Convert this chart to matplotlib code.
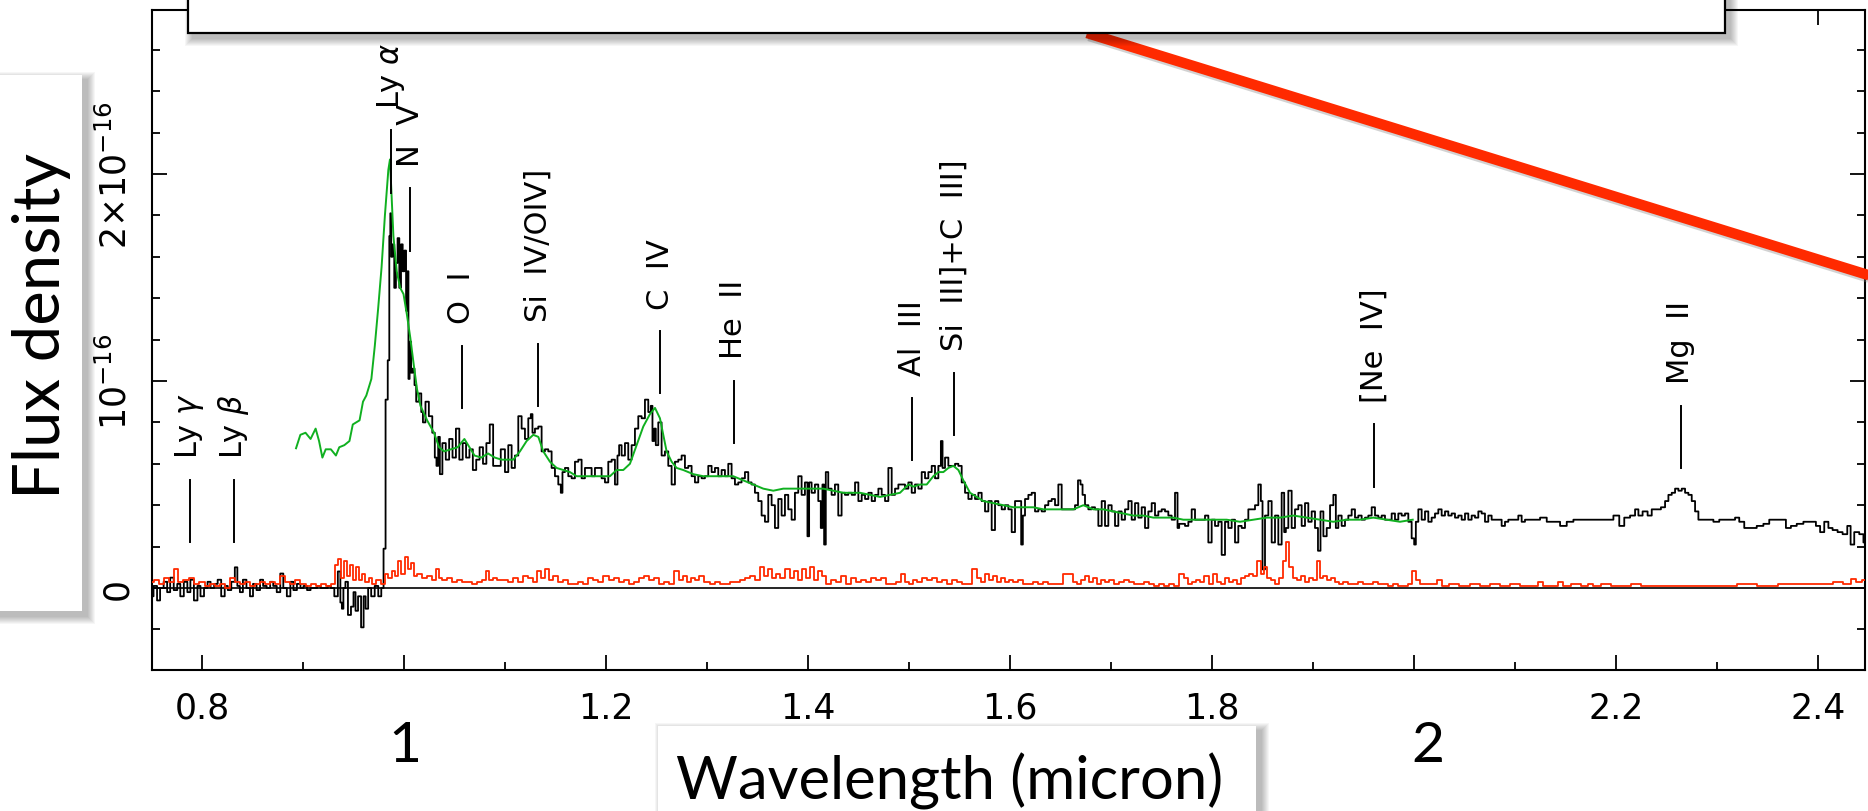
import numpy as np
import matplotlib
matplotlib.use("Agg")
import matplotlib.pyplot as plt
from matplotlib.patches import Rectangle

#%% data: flux density in units of 1e-16, wavelength in micron
wave_blue = [0.750, 0.754, 0.757, 0.760, 0.764, 0.767, 0.770, 0.774, 0.777, 0.780,
             0.784, 0.787, 0.790, 0.794, 0.797, 0.800, 0.804, 0.807, 0.810, 0.814,
             0.817, 0.821, 0.824, 0.827, 0.831, 0.834, 0.836, 0.839, 0.842, 0.846,
             0.849, 0.852, 0.856, 0.859, 0.862, 0.866, 0.869, 0.872, 0.876, 0.879,
             0.882, 0.886, 0.889, 0.892, 0.896, 0.899, 0.902, 0.906, 0.909, 0.912,
             0.916, 0.919, 0.923, 0.926, 0.929, 0.933, 0.936, 0.938, 0.939, 0.941,
             0.943, 0.946, 0.949, 0.951, 0.953, 0.956, 0.959, 0.961, 0.963, 0.966,
             0.969, 0.973, 0.976, 0.979, 0.9805, 0.983]
flux_blue = [-0.04, 0.01, -0.06, 0.00, 0.03, -0.02, 0.05, -0.01, 0.02, -0.04,
             0.03, -0.02, 0.04, -0.06, 0.01, -0.04, 0.00, 0.03, 0.00, 0.02,
             0.04, -0.04, 0.01, -0.01, 0.03, 0.10, 0.01, -0.02, 0.04, 0.00,
             -0.04, 0.02, -0.01, 0.04, 0.01, 0.00, 0.03, 0.01, -0.02, 0.07,
             0.00, -0.04, 0.03, -0.01, 0.02, 0.00, 0.01, -0.01, 0.00, 0.00,
             0.01, 0.00, 0.00, 0.01, 0.00, -0.04, 0.08, -0.07, -0.10, 0.00,
             0.03, -0.13, -0.09, -0.02, -0.11, -0.04, -0.19, -0.04, -0.10, 0.00,
             -0.04, 0.01, -0.04, 0.00, 0.19, 0.91]

wave_lya = [0.9848, 0.9861, 0.9868, 0.9878, 0.9895, 0.9912, 0.9928, 0.9945, 0.9962, 0.9979,
            0.9995, 1.0012, 1.0029, 1.0039, 1.0049, 1.0062, 1.0079, 1.0096, 1.0112, 1.0129,
            1.0163, 1.0179, 1.0196, 1.0229, 1.0263, 1.0297, 1.0313, 1.0330, 1.0347, 1.0363,
            1.0397, 1.0430, 1.0464, 1.0497, 1.0531, 1.0564, 1.0598, 1.0631, 1.0665, 1.0698,
            1.0732, 1.0765, 1.0799, 1.0832, 1.0866, 1.0899, 1.0933]
flux_lya = [1.10, 1.70, 1.81, 1.60, 1.66, 1.45, 1.57, 1.69, 1.45, 1.66,
            1.53, 1.63, 1.34, 1.53, 1.01, 1.19, 1.04, 1.06, 0.98, 0.90,
            0.94, 0.85, 0.80, 0.90, 0.83, 0.75, 0.63, 0.59, 0.73, 0.55,
            0.70, 0.62, 0.72, 0.63, 0.77, 0.62, 0.70, 0.63, 0.67, 0.57,
            0.62, 0.68, 0.60, 0.70, 0.79, 0.59, 0.59]

wave_civ = [1.0983, 1.1016, 1.1049, 1.1082, 1.1115, 1.1148, 1.1181, 1.1214, 1.1247, 1.1264,
            1.1280, 1.1313, 1.1346, 1.1379, 1.1412, 1.1445, 1.1478, 1.1511, 1.1544, 1.1561,
            1.1577, 1.1610, 1.1643, 1.1676, 1.1709, 1.1742, 1.1775, 1.1808, 1.1841, 1.1874,
            1.1907, 1.1940, 1.1973, 1.2006, 1.2039, 1.2072, 1.2105, 1.2122, 1.2138, 1.2171,
            1.2204, 1.2237, 1.2270, 1.2303, 1.2336, 1.2369, 1.2402, 1.2435, 1.2452, 1.2468,
            1.2485, 1.2501, 1.2534, 1.2567, 1.2600, 1.2633, 1.2666, 1.2699, 1.2732, 1.2765,
            1.2798, 1.2831, 1.2864, 1.2897, 1.2930, 1.2963, 1.2996, 1.3029, 1.3062, 1.3095,
            1.3128, 1.3161, 1.3194, 1.3227, 1.3260, 1.3293, 1.3326, 1.3359, 1.3392, 1.3425,
            1.3458, 1.3491, 1.3524, 1.3557, 1.3590, 1.3623, 1.3656, 1.3689, 1.3722, 1.3755,
            1.3788, 1.3821, 1.3854, 1.3887, 1.3920, 1.3953, 1.3986, 1.4003, 1.4019, 1.4052,
            1.4085, 1.4118, 1.4135, 1.4151, 1.4168, 1.4184, 1.4217, 1.4250, 1.4283, 1.4316,
            1.4349, 1.4382]
flux_civ = [0.67, 0.56, 0.69, 0.58, 0.64, 0.83, 0.77, 0.72, 0.82, 0.84,
            0.75, 0.77, 0.78, 0.66, 0.67, 0.66, 0.58, 0.54, 0.50, 0.46,
            0.56, 0.58, 0.54, 0.53, 0.61, 0.62, 0.53, 0.58, 0.58, 0.54,
            0.58, 0.58, 0.53, 0.51, 0.61, 0.62, 0.50, 0.64, 0.69, 0.64,
            0.70, 0.62, 0.69, 0.77, 0.83, 0.82, 0.91, 0.85, 0.88, 0.71,
            0.77, 0.69, 0.80, 0.64, 0.66, 0.59, 0.50, 0.61, 0.62, 0.64,
            0.58, 0.59, 0.54, 0.51, 0.54, 0.53, 0.54, 0.59, 0.56, 0.58,
            0.54, 0.57, 0.54, 0.60, 0.53, 0.50, 0.51, 0.53, 0.56, 0.51,
            0.50, 0.46, 0.42, 0.35, 0.32, 0.45, 0.40, 0.29, 0.43, 0.35,
            0.45, 0.38, 0.33, 0.46, 0.54, 0.45, 0.51, 0.25, 0.51, 0.46,
            0.50, 0.42, 0.29, 0.50, 0.21, 0.56, 0.48, 0.45, 0.50, 0.35,
            0.46, 0.45]

wave_ciii = [1.4416, 1.4449, 1.4482, 1.4515, 1.4548, 1.4581, 1.4614, 1.4647, 1.4680, 1.4713,
             1.4746, 1.4779, 1.4812, 1.4845, 1.4878, 1.4911, 1.4944, 1.4977, 1.5010, 1.5043,
             1.5076, 1.5109, 1.5142, 1.5175, 1.5208, 1.5241, 1.5274, 1.5307, 1.5324, 1.5340,
             1.5373, 1.5406, 1.5439, 1.5472, 1.5505, 1.5538, 1.5571, 1.5604, 1.5637, 1.5670,
             1.5703, 1.5736, 1.5769, 1.5802, 1.5835, 1.5868, 1.5901, 1.5934, 1.5967, 1.6000,
             1.6033, 1.6066, 1.6099, 1.6122, 1.6132, 1.6165, 1.6198, 1.6231, 1.6264, 1.6297,
             1.6330, 1.6363, 1.6396, 1.6429, 1.6462, 1.6495, 1.6528, 1.6561, 1.6594, 1.6627,
             1.6660, 1.6686, 1.6710, 1.6726, 1.6759, 1.6792, 1.6825, 1.6858, 1.6891, 1.6924,
             1.6957, 1.6990, 1.7023, 1.7056, 1.7089, 1.7122, 1.7155, 1.7188, 1.7221, 1.7254,
             1.7287, 1.7320, 1.7353, 1.7386, 1.7419, 1.7452, 1.7485, 1.7518, 1.7551, 1.7584,
             1.7617, 1.7650, 1.7667, 1.7683, 1.7716, 1.7749, 1.7782, 1.7815, 1.7848]
flux_ciii = [0.46, 0.45, 0.51, 0.42, 0.45, 0.43, 0.46, 0.42, 0.45, 0.48,
             0.45, 0.42, 0.58, 0.45, 0.48, 0.50, 0.50, 0.48, 0.51, 0.46,
             0.50, 0.48, 0.56, 0.53, 0.56, 0.59, 0.53, 0.59, 0.71, 0.58,
             0.63, 0.59, 0.59, 0.60, 0.59, 0.51, 0.46, 0.43, 0.45, 0.43,
             0.46, 0.42, 0.37, 0.42, 0.28, 0.42, 0.40, 0.38, 0.40, 0.38,
             0.27, 0.42, 0.42, 0.21, 0.35, 0.43, 0.45, 0.46, 0.37, 0.38,
             0.37, 0.40, 0.42, 0.43, 0.40, 0.50, 0.38, 0.38, 0.38, 0.38,
             0.40, 0.52, 0.50, 0.45, 0.40, 0.38, 0.39, 0.38, 0.30, 0.42,
             0.30, 0.40, 0.37, 0.30, 0.37, 0.33, 0.38, 0.42, 0.33, 0.41,
             0.34, 0.39, 0.29, 0.37, 0.41, 0.35, 0.37, 0.38, 0.37, 0.35,
             0.33, 0.46, 0.29, 0.31, 0.31, 0.30, 0.32, 0.38, 0.33]

wave_neiv = [1.7881, 1.7914, 1.7947, 1.7980, 1.8013, 1.8046, 1.8079, 1.8112, 1.8145, 1.8178,
             1.8211, 1.8244, 1.8277, 1.8310, 1.8343, 1.8376, 1.8409, 1.8442, 1.8475, 1.8492,
             1.8508, 1.8541, 1.8574, 1.8607, 1.8640, 1.8673, 1.8706, 1.8723, 1.8739, 1.8772,
             1.8805, 1.8838, 1.8871, 1.8904, 1.8937, 1.8970, 1.9003, 1.9036, 1.9062, 1.9086,
             1.9119, 1.9152, 1.9185, 1.9218, 1.9234, 1.9267, 1.9300, 1.9333, 1.9366, 1.9399,
             1.9432, 1.9465, 1.9498, 1.9531, 1.9564, 1.9597, 1.9630, 1.9663, 1.9696, 1.9729,
             1.9762, 1.9795, 1.9828, 1.9861, 1.9894, 1.9927, 1.9960, 1.9993, 2.0010, 2.0026,
             2.0059, 2.0092, 2.0125, 2.0158, 2.0191, 2.0224, 2.0257, 2.0290, 2.0323, 2.0356,
             2.0389, 2.0422, 2.0455, 2.0488, 2.0521, 2.0554, 2.0587, 2.0620, 2.0653, 2.0686,
             2.0719, 2.0752, 2.0785, 2.0818, 2.0851, 2.0884, 2.0917, 2.0950, 2.0983, 2.1016,
             2.1049, 2.1082, 2.1115]
flux_neiv = [0.33, 0.33, 0.35, 0.22, 0.33, 0.30, 0.32, 0.16, 0.32, 0.29,
             0.33, 0.22, 0.30, 0.29, 0.33, 0.38, 0.38, 0.40, 0.50, 0.42,
             0.09, 0.35, 0.42, 0.22, 0.35, 0.21, 0.46, 0.27, 0.29, 0.47,
             0.29, 0.38, 0.40, 0.30, 0.41, 0.32, 0.37, 0.29, 0.18, 0.37,
             0.25, 0.29, 0.40, 0.45, 0.29, 0.35, 0.30, 0.33, 0.35, 0.38,
             0.34, 0.35, 0.33, 0.34, 0.35, 0.39, 0.35, 0.34, 0.35, 0.33,
             0.33, 0.36, 0.33, 0.36, 0.35, 0.36, 0.32, 0.24, 0.21, 0.32,
             0.38, 0.33, 0.37, 0.32, 0.34, 0.36, 0.38, 0.35, 0.37, 0.35,
             0.36, 0.34, 0.35, 0.33, 0.36, 0.33, 0.35, 0.34, 0.37, 0.36,
             0.32, 0.35, 0.33, 0.33, 0.33, 0.30, 0.32, 0.33, 0.33, 0.33,
             0.35, 0.32, 0.33]

wave_mgii = [2.1149, 2.1215, 2.1281, 2.1347, 2.1413, 2.1479, 2.1545, 2.1611, 2.1677, 2.1743,
             2.1809, 2.1875, 2.1941, 2.2007, 2.2057, 2.2106, 2.2172, 2.2205, 2.2238, 2.2288,
             2.2337, 2.2370, 2.2420, 2.2469, 2.2502, 2.2535, 2.2568, 2.2601, 2.2634, 2.2667,
             2.2700, 2.2733, 2.2766, 2.2799, 2.2832, 2.2865, 2.2931, 2.2997, 2.3047, 2.3096,
             2.3129, 2.3162, 2.3195, 2.3245, 2.3294, 2.3360, 2.3426, 2.3492, 2.3542, 2.3575,
             2.3608, 2.3657, 2.3707, 2.3756, 2.3822, 2.3888, 2.3954, 2.4004, 2.4037, 2.4086,
             2.4119, 2.4169, 2.4218, 2.4268, 2.4311, 2.4334, 2.4383, 2.4433, 2.4466]
flux_mgii = [0.33, 0.33, 0.34, 0.32, 0.32, 0.30, 0.32, 0.33, 0.33, 0.33,
             0.33, 0.33, 0.33, 0.35, 0.30, 0.34, 0.35, 0.38, 0.35, 0.37,
             0.35, 0.38, 0.38, 0.39, 0.42, 0.45, 0.46, 0.48, 0.47, 0.48,
             0.46, 0.45, 0.42, 0.37, 0.33, 0.33, 0.33, 0.32, 0.33, 0.33,
             0.33, 0.33, 0.34, 0.32, 0.29, 0.29, 0.30, 0.31, 0.33, 0.33,
             0.33, 0.33, 0.29, 0.30, 0.31, 0.32, 0.32, 0.30, 0.27, 0.32,
             0.29, 0.28, 0.27, 0.26, 0.30, 0.21, 0.27, 0.26, 0.22]

# composite quasar template (green)
model_wave_uv = [0.8931, 0.8974, 0.9025, 0.9075, 0.9125, 0.9159, 0.9192, 0.9225, 0.9276, 0.9326,
                 0.9359, 0.9409, 0.9460, 0.9493, 0.9560, 0.9594, 0.9627, 0.9677, 0.9711, 0.9744,
                 0.9778, 0.9811, 0.9845, 0.9861, 0.9878, 0.9895, 0.9928, 0.9962, 0.9995, 1.0029,
                 1.0062, 1.0096, 1.0129, 1.0163, 1.0229, 1.0297, 1.0347, 1.0397, 1.0464, 1.0531,
                 1.0598, 1.0648, 1.0698, 1.0765, 1.0832, 1.0899, 1.0966]
model_flux_uv = [0.675, 0.74, 0.75, 0.72, 0.77, 0.71, 0.63, 0.67, 0.67, 0.64,
                 0.68, 0.69, 0.71, 0.79, 0.81, 0.90, 0.93, 1.01, 1.17, 1.35,
                 1.55, 1.80, 2.02, 2.07, 1.89, 1.70, 1.53, 1.45, 1.42, 1.32,
                 1.21, 1.08, 0.96, 0.88, 0.81, 0.75, 0.68, 0.66, 0.67, 0.68,
                 0.72, 0.68, 0.64, 0.63, 0.65, 0.63, 0.62]
model_wave_j = [1.1082, 1.1148, 1.1214, 1.1280, 1.1330, 1.1379, 1.1445, 1.1511, 1.1577, 1.1643,
                1.1709, 1.1775, 1.1841, 1.1907, 1.1973, 1.2039, 1.2105, 1.2171, 1.2237, 1.2303,
                1.2369, 1.2435, 1.2485, 1.2534, 1.2567, 1.2600, 1.2650, 1.2699, 1.2765, 1.2864,
                1.2963, 1.3062, 1.3161, 1.3260, 1.3359, 1.3458, 1.3557, 1.3656, 1.3755, 1.3854,
                1.3953, 1.4052, 1.4151, 1.4250, 1.4349]
model_flux_j = [0.62, 0.66, 0.71, 0.74, 0.73, 0.66, 0.61, 0.58, 0.57, 0.56,
                0.54, 0.54, 0.54, 0.54, 0.54, 0.54, 0.57, 0.57, 0.60, 0.69,
                0.78, 0.84, 0.87, 0.82, 0.74, 0.66, 0.61, 0.58, 0.57, 0.55,
                0.54, 0.54, 0.54, 0.54, 0.52, 0.50, 0.48, 0.47, 0.48, 0.48,
                0.48, 0.48, 0.48, 0.47, 0.46]
model_wave_h = [1.4416, 1.4515, 1.4614, 1.4713, 1.4812, 1.4911, 1.4994, 1.5043, 1.5109, 1.5175,
                1.5241, 1.5291, 1.5340, 1.5390, 1.5439, 1.5489, 1.5538, 1.5604, 1.5670, 1.5736,
                1.5835, 1.5934, 1.6033, 1.6132, 1.6231, 1.6330, 1.6429, 1.6528, 1.6627, 1.6726,
                1.6825, 1.6924, 1.7023, 1.7122, 1.7221, 1.7320, 1.7419, 1.7518, 1.7617, 1.7716,
                1.7815, 1.7881, 1.8013, 1.8145, 1.8277, 1.8409, 1.8541, 1.8673, 1.8805, 1.8937,
                1.9069, 1.9201, 1.9333, 1.9465, 1.9597, 1.9729, 1.9861, 1.9987]
model_flux_h = [0.46, 0.46, 0.45, 0.44, 0.45, 0.46, 0.50, 0.49, 0.50, 0.50,
                0.54, 0.56, 0.56, 0.58, 0.59, 0.57, 0.52, 0.46, 0.44, 0.42,
                0.41, 0.40, 0.39, 0.39, 0.39, 0.38, 0.38, 0.38, 0.38, 0.40,
                0.38, 0.38, 0.37, 0.36, 0.35, 0.35, 0.34, 0.34, 0.34, 0.33,
                0.33, 0.33, 0.33, 0.33, 0.32, 0.33, 0.34, 0.34, 0.35, 0.34,
                0.33, 0.32, 0.33, 0.33, 0.34, 0.33, 0.32, 0.33]

# 1-sigma noise (red)
noise_wave_a = [0.750, 0.755, 0.760, 0.765, 0.770, 0.775, 0.778, 0.785, 0.790, 0.795,
                0.800, 0.805, 0.810, 0.815, 0.820, 0.825, 0.830, 0.835, 0.840, 0.845,
                0.850, 0.855, 0.860, 0.865, 0.870, 0.875, 0.880, 0.885, 0.890, 0.895,
                0.900, 0.905, 0.910, 0.915, 0.920, 0.925, 0.930, 0.933, 0.936, 0.939,
                0.942, 0.945, 0.948, 0.951, 0.954, 0.957, 0.960, 0.963, 0.967, 0.970,
                0.975, 0.979, 0.983, 0.986, 0.990, 0.993, 0.996, 0.999, 1.002, 1.005,
                1.008, 1.011, 1.015, 1.020, 1.025, 1.030, 1.033, 1.036, 1.040, 1.045,
                1.050, 1.055, 1.060, 1.065, 1.070, 1.075, 1.080, 1.083, 1.086, 1.090,
                1.095]
noise_flux_a = [0.03, 0.04, 0.02, 0.05, 0.03, 0.09, 0.03, 0.04, 0.05, 0.02,
                0.03, 0.01, 0.02, 0.01, 0.02, 0.00, 0.05, 0.03, 0.02, 0.03,
                0.01, 0.02, 0.03, 0.02, 0.03, 0.02, 0.06, 0.03, 0.02, 0.04,
                0.02, 0.01, 0.02, 0.01, 0.02, 0.01, 0.02, 0.11, 0.14, 0.05,
                0.13, 0.06, 0.11, 0.04, 0.10, 0.04, 0.07, 0.03, 0.05, 0.02,
                0.04, 0.02, 0.07, 0.05, 0.08, 0.06, 0.13, 0.07, 0.15, 0.09,
                0.12, 0.06, 0.07, 0.05, 0.06, 0.04, 0.09, 0.05, 0.04, 0.05,
                0.03, 0.04, 0.03, 0.03, 0.02, 0.03, 0.04, 0.08, 0.04, 0.05,
                0.04]
noise_wave_b = [1.100, 1.105, 1.110, 1.115, 1.120, 1.125, 1.130, 1.134, 1.138, 1.142,
                1.146, 1.150, 1.155, 1.160, 1.165, 1.170, 1.175, 1.180, 1.185, 1.190,
                1.195, 1.200, 1.205, 1.210, 1.215, 1.220, 1.225, 1.230, 1.235, 1.240,
                1.245, 1.250, 1.255, 1.260, 1.265, 1.270, 1.274, 1.278, 1.282, 1.286,
                1.290, 1.295, 1.300, 1.305, 1.310, 1.315, 1.320, 1.325, 1.330, 1.335,
                1.340, 1.345, 1.350, 1.355, 1.358, 1.362, 1.366, 1.370, 1.375, 1.380,
                1.384, 1.388, 1.392, 1.396, 1.400, 1.404, 1.408, 1.412, 1.416, 1.420,
                1.425, 1.430, 1.435, 1.440]
noise_flux_b = [0.04, 0.03, 0.05, 0.03, 0.06, 0.05, 0.03, 0.08, 0.05, 0.09,
                0.04, 0.06, 0.03, 0.04, 0.02, 0.02, 0.03, 0.02, 0.05, 0.04,
                0.03, 0.06, 0.04, 0.05, 0.03, 0.04, 0.02, 0.03, 0.05, 0.06,
                0.04, 0.05, 0.02, 0.03, 0.02, 0.08, 0.04, 0.06, 0.03, 0.05,
                0.04, 0.06, 0.03, 0.02, 0.03, 0.02, 0.02, 0.03, 0.03, 0.04,
                0.05, 0.06, 0.04, 0.10, 0.06, 0.09, 0.05, 0.07, 0.05, 0.09,
                0.05, 0.08, 0.04, 0.09, 0.05, 0.10, 0.04, 0.08, 0.06, 0.02,
                0.04, 0.03, 0.06, 0.02]
noise_wave_c = [1.445, 1.450, 1.455, 1.460, 1.465, 1.470, 1.475, 1.480, 1.485, 1.490,
                1.494, 1.498, 1.502, 1.506, 1.510, 1.515, 1.520, 1.525, 1.530, 1.535,
                1.540, 1.545, 1.550, 1.555, 1.560, 1.565, 1.569, 1.573, 1.577, 1.581,
                1.585, 1.589, 1.593, 1.597, 1.601, 1.605, 1.610, 1.615, 1.620, 1.625,
                1.630, 1.635, 1.640, 1.645, 1.660, 1.664, 1.668, 1.672, 1.676, 1.680,
                1.684, 1.688, 1.692, 1.696, 1.700, 1.705, 1.710, 1.715, 1.720, 1.725,
                1.730, 1.735, 1.740, 1.745, 1.750, 1.755, 1.760, 1.765, 1.770, 1.774,
                1.778, 1.782, 1.786]
noise_flux_c = [0.05, 0.03, 0.04, 0.03, 0.05, 0.04, 0.05, 0.02, 0.02, 0.03,
                0.07, 0.03, 0.02, 0.04, 0.03, 0.05, 0.04, 0.05, 0.03, 0.04,
                0.02, 0.04, 0.03, 0.02, 0.02, 0.09, 0.05, 0.03, 0.07, 0.04,
                0.06, 0.03, 0.05, 0.03, 0.04, 0.03, 0.04, 0.02, 0.02, 0.03,
                0.02, 0.03, 0.02, 0.02, 0.07, 0.03, 0.02, 0.04, 0.06, 0.03,
                0.05, 0.02, 0.04, 0.03, 0.04, 0.02, 0.03, 0.04, 0.03, 0.02,
                0.02, 0.03, 0.02, 0.01, 0.02, 0.01, 0.02, 0.01, 0.07, 0.05,
                0.02, 0.03, 0.04]
noise_wave_d = [1.790, 1.795, 1.799, 1.803, 1.807, 1.811, 1.815, 1.819, 1.823, 1.827,
                1.831, 1.835, 1.839, 1.843, 1.847, 1.850, 1.853, 1.856, 1.860, 1.864,
                1.868, 1.872, 1.875, 1.878, 1.882, 1.886, 1.890, 1.894, 1.898, 1.902,
                1.905, 1.908, 1.912, 1.916, 1.920, 1.924, 1.928, 1.932, 1.937, 1.942,
                1.947, 1.952, 1.957, 1.962, 1.967, 1.972, 1.977, 1.982, 1.987, 1.992,
                1.996, 2.000, 2.004, 2.008, 2.015, 2.020, 2.025, 2.030, 2.040, 2.050,
                2.060, 2.070, 2.080, 2.090, 2.100, 2.110, 2.120, 2.125, 2.130]
noise_flux_d = [0.03, 0.06, 0.02, 0.07, 0.03, 0.02, 0.05, 0.03, 0.04, 0.02,
                0.05, 0.06, 0.07, 0.06, 0.13, 0.07, 0.10, 0.05, 0.04, 0.02,
                0.05, 0.13, 0.22, 0.10, 0.05, 0.04, 0.06, 0.03, 0.05, 0.04,
                0.13, 0.05, 0.06, 0.04, 0.05, 0.03, 0.02, 0.03, 0.02, 0.02,
                0.03, 0.02, 0.02, 0.03, 0.02, 0.02, 0.01, 0.02, 0.01, 0.01,
                0.02, 0.08, 0.04, 0.02, 0.02, 0.02, 0.04, 0.01, 0.02, 0.01,
                0.02, 0.01, 0.02, 0.01, 0.02, 0.01, 0.01, 0.03, 0.01]
noise_wave_e = [2.135, 2.140, 2.145, 2.150, 2.160, 2.170, 2.175, 2.180, 2.190, 2.200,
                2.210, 2.220, 2.230, 2.250, 2.270, 2.290, 2.310, 2.330, 2.350, 2.370,
                2.390, 2.410, 2.420, 2.430, 2.435, 2.440, 2.447]
noise_flux_e = [0.01, 0.01, 0.03, 0.01, 0.02, 0.01, 0.02, 0.01, 0.02, 0.01,
                0.01, 0.02, 0.01, 0.01, 0.01, 0.01, 0.01, 0.02, 0.01, 0.02,
                0.02, 0.02, 0.03, 0.02, 0.045, 0.03, 0.04]

# emission line identifications: name, wavelength, top of the marker (1e-16)
line_names = [r"Ly $\mathit{\gamma}$", r"Ly $\mathit{\beta}$", r"Ly $\mathit{\alpha}$",
              "N  V", "O  I", "Si  IV/OIV]", "C  IV", "He  II", "Al  III",
              "Si  III]+C  III]", "[Ne  IV]", "Mg  II"]
line_waves = [0.7877, 0.8312, 0.9868, 1.0062, 1.0574, 1.1324, 1.2535, 1.3264,
              1.503, 1.545, 1.9604, 2.264]
line_tops = [0.52, 0.52, 2.21, 1.93, 1.17, 1.18, 1.24, 1.00, 0.92, 1.04, 0.79, 0.88]

xticks_major = [0.8, 1.0, 1.2, 1.4, 1.6, 1.8, 2.0, 2.2, 2.4]
xtick_labels = ["0.8", "", "1.2", "1.4", "1.6", "1.8", "", "2.2", "2.4"]
yticks_major = [0, 1, 2]
ytick_labels = ["0", r"$10^{-16}$", r"$2{\times}10^{-16}$"]

#%% figure
W, H = 1868, 812
plt.rcParams['font.family'] = ['DejaVu Sans']
plt.rcParams['mathtext.fontset'] = 'custom'
plt.rcParams['mathtext.rm'] = 'Liberation Sans Narrow'
plt.rcParams['mathtext.it'] = 'DejaVu Sans:italic'
plt.rcParams['mathtext.default'] = 'rm'
tick_font = ['Liberation Sans Narrow', 'DejaVu Sans']

fig = plt.figure(figsize=(W / 100, H / 100), dpi=100)
ax = fig.add_axes([152 / W, 1 - 671 / H, (1865 - 152) / W, (671 - 11) / H])

wave = np.concatenate([wave_blue, wave_lya, wave_civ, wave_ciii, wave_neiv, wave_mgii])
flux = np.concatenate([flux_blue, flux_lya, flux_civ, flux_ciii, flux_neiv, flux_mgii])
noise_wave = np.concatenate([noise_wave_a, noise_wave_b, noise_wave_c, noise_wave_d, noise_wave_e])
noise_flux = np.concatenate([noise_flux_a, noise_flux_b, noise_flux_c, noise_flux_d, noise_flux_e])
model_wave = np.concatenate([model_wave_uv, model_wave_j, model_wave_h])
model_flux = np.concatenate([model_flux_uv, model_flux_j, model_flux_h])

ax.axhline(0, color='black', lw=1.2, zorder=1)
ax.step(wave, flux, where='mid', color='black', lw=1.3, zorder=2)
ax.step(noise_wave, noise_flux, where='mid', color='#ff2a00', lw=1.3, zorder=3)
ax.plot(model_wave, model_flux, color='#10b020', lw=1.4, zorder=4)

# line markers and labels
for name, lw_, top in zip(line_names, line_waves, line_tops):
    ax.plot([lw_, lw_], [top - 0.30, top], color='black', lw=1.4, zorder=5)
    ax.text(lw_, top + 0.11, name, rotation=90, ha='center', va='bottom',
            fontsize=22, color='black', zorder=6)

ax.set_xlim(0.7505, 2.4465)
ax.set_ylim(-0.396, 2.792)
ax.set_xticks(xticks_major)
ax.set_xticklabels(xtick_labels, fontsize=25, family=tick_font)
ax.set_xticks(np.arange(0.8, 2.45, 0.1), minor=True)
ax.set_yticks(yticks_major)
ax.set_yticklabels(ytick_labels, fontsize=25, family=tick_font, rotation=90, va='center')
ax.set_yticks(np.arange(-0.2, 2.8, 0.2), minor=True)
ax.tick_params(which='both', direction='in', top=True, right=True, width=1.3)
ax.tick_params(which='major', length=11)
ax.tick_params(which='minor', length=6)
ax.tick_params(axis='x', pad=15)
ax.tick_params(axis='y', pad=13)
for s in ax.spines.values():
    s.set_linewidth(1.5)

#%% slide overlay drawn in pixel coordinates
ov = fig.add_axes([0, 0, 1, 1], zorder=10)
ov.set_xlim(0, W)
ov.set_ylim(H, 0)
ov.axis('off')
ov.patch.set_alpha(0)


def slide_box(x0, y0, x1, y1, edge=None):
    # soft drop shadow, then the white box
    for k in range(1, 9):
        ov.add_patch(Rectangle((x0 + 5 - k, y0 + 5 - k), x1 - x0 + 2 * k, y1 - y0 + 2 * k,
                               facecolor='black', edgecolor='none', alpha=0.035, zorder=2))
    ov.add_patch(Rectangle((x0, y0), x1 - x0, y1 - y0, facecolor='white',
                           edgecolor=edge if edge else 'none', lw=1.6, zorder=3))


# red pointer line
slope = (276 - 34) / (1868 - 1087)
ov.plot([1089, 1920], [37, 37 + slope * (1920 - 1089)], color='#7f7f7f', lw=7.5,
        alpha=0.35, solid_capstyle='butt', zorder=1)
ov.plot([1087, 1920], [34, 34 + slope * (1920 - 1087)], color='#ff2a00', lw=7.5,
        solid_capstyle='butt', zorder=1.5)

slide_box(187.5, -40, 1725, 34, edge='black')
slide_box(-40, 76, 82, 612)
slide_box(658, 727, 1256, 860)

ov.text(42, 326, "Flux density", rotation=90, ha='center', va='center',
        fontsize=47, family='Lato', zorder=4)
ov.text(950, 800, "Wavelength (micron)", ha='center', va='baseline',
        fontsize=43, family='Lato', zorder=4)
ov.text(405, 762, "1", ha='center', va='baseline', fontsize=41, family='Lato', zorder=4)
ov.text(1428, 762, "2", ha='center', va='baseline', fontsize=41, family='Lato', zorder=4)

fig.savefig('out.png', dpi=100)
